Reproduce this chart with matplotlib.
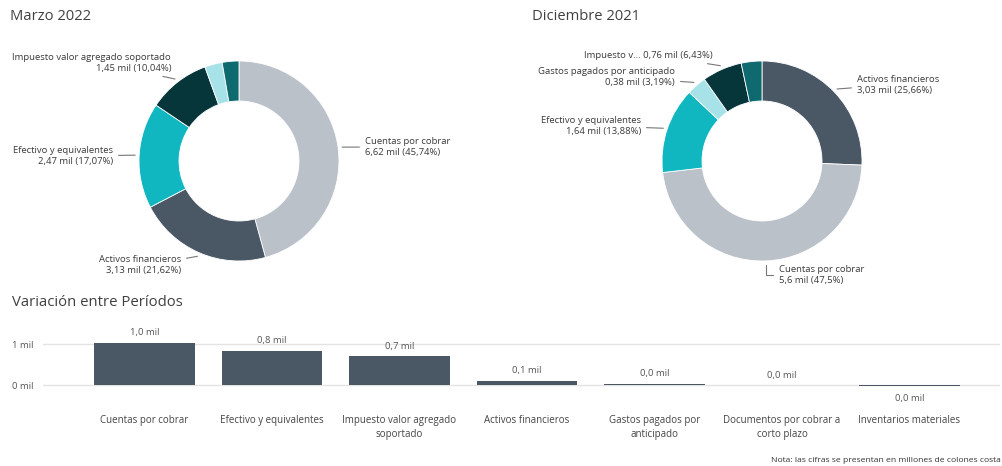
import numpy as np
import matplotlib
matplotlib.use("Agg")
import matplotlib.pyplot as plt

plt.rcParams["font.family"] = ["Open Sans", "DejaVu Sans"]

# Composición de activos corrientes (millones de colones)
mar_names = ["Cuentas por cobrar", "Activos financieros", "Efectivo y equivalentes",
             "Impuesto valor agregado soportado", "Gastos pagados por anticipado",
             "Documentos por cobrar a corto plazo"]
mar_values = [6.62, 3.13, 2.47, 1.45, 0.41, 0.39]
mar_pct = [45.74, 21.62, 17.07, 10.04, 2.83, 2.70]

dic_names = ["Activos financieros", "Cuentas por cobrar", "Efectivo y equivalentes",
             "Gastos pagados por anticipado", "Impuesto v...",
             "Documentos por cobrar a corto plazo"]
dic_values = [3.03, 5.6, 1.64, 0.38, 0.76, 0.39]
dic_pct = [25.66, 47.5, 13.88, 3.19, 6.43, 3.34]

var_names = ["Cuentas por cobrar", "Efectivo y equivalentes",
             "Impuesto valor agregado\nsoportado", "Activos financieros",
             "Gastos pagados por\nanticipado", "Documentos por cobrar a\ncorto plazo",
             "Inventarios materiales"]
var_values = [1.04, 0.84, 0.71, 0.11, 0.04, 0.005, -0.02]

colors = {
    "Cuentas por cobrar": "#BBC1C9",
    "Activos financieros": "#4A5866",
    "Efectivo y equivalentes": "#10B6C0",
    "Impuesto valor agregado soportado": "#06363A",
    "Impuesto v...": "#06363A",
    "Gastos pagados por anticipado": "#A6E2E7",
    "Documentos por cobrar a corto plazo": "#0F6A70",
}

W, H = 1003, 466
fig = plt.figure(figsize=(W / 100, H / 100), dpi=100)
TXT = "#3A3A3A"


def fx(px):
    return px / W


def fy(py):
    return 1 - py / H


def short(v):
    return f"{v:.2f}".rstrip("0").rstrip(".").replace(".", ",")


def donut(cx, cy, names, values, pct, labels):
    R = 100
    ax = fig.add_axes([fx(cx - R), fy(cy + R), 2 * R / W, 2 * R / H])
    ax.pie(pct, colors=[colors[n] for n in names], startangle=90, counterclock=False,
           radius=1, wedgeprops=dict(width=0.4, edgecolor="white", linewidth=0.6))
    ax.set_xlim(-1, 1)
    ax.set_ylim(-1, 1)
    ax.axis("off")
    cum = np.cumsum([0] + list(pct))
    for i, (tx, ty, side, elbow) in labels.items():
        mid = np.deg2rad(90 - (cum[i] + pct[i] / 2) * 3.6)
        xy = (1.04 * np.cos(mid), 1.04 * np.sin(mid))
        name = names[i]
        sep = " " if name == "Impuesto v..." else "\n"
        text = f"{name}{sep}{short(values[i])} mil ({short(pct[i])}%)"
        if elbow:
            conn = "angle,angleA=0,angleB=90,rad=0"
        else:
            arm_dir = 180 if side == "left" else 0
            conn = f"arc,angleA={arm_dir},armA=9,angleB=0,armB=0,rad=0"
        ax.annotate(text, xy=xy, xycoords="data",
                    xytext=(tx, H - ty), textcoords="figure pixels",
                    ha=side, va="center", fontsize=6.8, color=TXT,
                    multialignment=side, linespacing=1.3, annotation_clip=False,
                    arrowprops=dict(arrowstyle="-", color="#777777", lw=0.8,
                                    shrinkA=2, shrinkB=0, connectionstyle=conn))


# Marzo 2022
fig.text(fx(10), fy(17), "Marzo 2022", fontsize=10.6, color="#404040", va="center", ha="left")
donut(239, 161, mar_names, mar_values, mar_pct,
      {0: (365, 147, "left", False), 1: (181, 265, "right", False),
       2: (113, 156, "right", False), 3: (171, 63, "right", False)})

# Diciembre 2021
fig.text(fx(532), fy(17), "Diciembre 2021", fontsize=10.6, color="#404040", va="center", ha="left")
donut(762, 161, dic_names, dic_values, dic_pct,
      {0: (857, 85, "left", False), 1: (779, 275, "left", True),
       2: (641, 126, "right", False), 3: (675, 77, "right", False),
       4: (713, 56, "right", False)})

# Variación entre periodos
fig.text(fx(12), fy(302), "Variación entre Períodos", fontsize=10.7, color="#404040",
         va="center", ha="left")
ax = fig.add_axes([fx(43), fy(400), (1000 - 43) / W, 75 / H])
x = np.arange(len(var_names))
ax.bar(x, var_values, width=0.79, color="#4A5866", zorder=3)
ax.set_xlim((43 - 144.5) / 127.5, (1000 - 144.5) / 127.5)
ax.set_ylim((385.3 - 400) / 41, (385.3 - 325) / 41)
ax.set_yticks([0, 1], ["0 mil", "1 mil"])
ax.set_xticks(x, var_names)
ax.tick_params(axis="y", length=0, pad=7, labelsize=6.8, labelcolor="#555555")
ax.tick_params(axis="x", length=0, pad=11, labelsize=7, labelcolor="#444444")
for t in ax.get_xticklabels():
    t.set_va("top")
    t.set_linespacing(1.4)
ax.grid(axis="y", color="#E3E3E3", lw=1, zorder=0)
for s in ax.spines.values():
    s.set_visible(False)
for xi, v in zip(x, var_values):
    lab = f"{round(v, 1) + 0.0:.1f}".replace(".", ",") + " mil"
    if v >= 0:
        ax.annotate(lab, (xi, v), xytext=(0, 4), textcoords="offset points",
                    ha="center", va="bottom", fontsize=6.8, color="#555555")
    else:
        ax.annotate(lab, (xi, v), xytext=(0, -6), textcoords="offset points",
                    ha="center", va="top", fontsize=6.8, color="#555555")

fig.text(fx(1001), fy(461), "Nota: las cifras se presentan en millones de colones costa",
         fontsize=6.1, color="#333333", ha="right", va="center")

fig.savefig("out.png", dpi=100, facecolor="white")
